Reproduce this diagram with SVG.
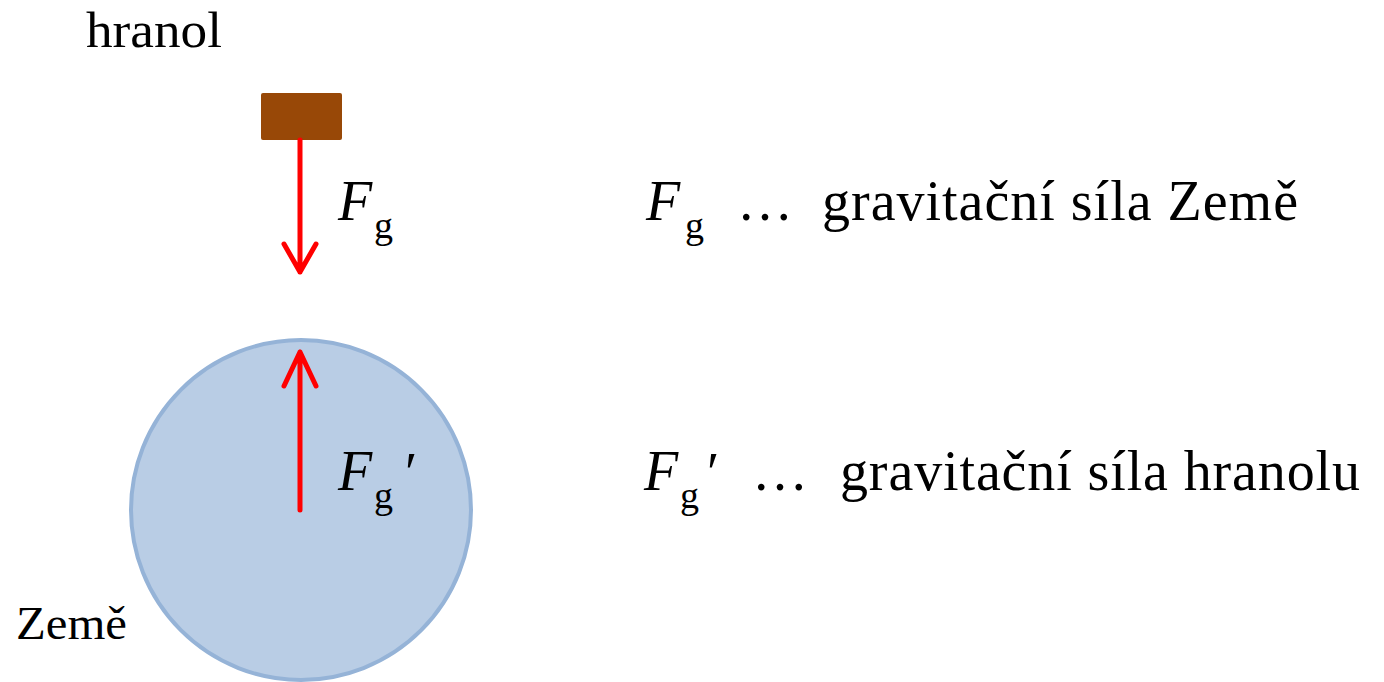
<svg xmlns="http://www.w3.org/2000/svg" width="1384" height="682" viewBox="0 0 1384 682">
<style>
text{font-family:"Liberation Serif","Times New Roman",serif;fill:#000}
.t{font-size:56px}
.i{font-style:italic}
.s{font-size:38px}
.arr{stroke:#FF0000;stroke-width:5;fill:none;stroke-linecap:round;stroke-linejoin:round}
</style>
<rect width="1384" height="682" fill="#fff"/>
<g id="zeme">
<circle cx="301" cy="510" r="170" fill="#B9CDE5" stroke="#95B3D7" stroke-width="4"/>
<text x="16" y="639" font-size="46" textLength="111" lengthAdjust="spacingAndGlyphs">Země</text>
</g>
<g id="hranol">
<rect x="261" y="93" width="81" height="47" rx="2" fill="#984807"/>
<text x="86" y="47" font-size="50" textLength="136" lengthAdjust="spacingAndGlyphs">hranol</text>
</g>
<g id="connectors">
<path class="arr" d="M300 140V272M284 244L300 272L316 244"/>
<path class="arr" d="M300 510V352M284 386L300 352L316 386"/>
</g>
<g id="label-fg">
<text class="t i" x="338" y="220">F</text><text class="s" x="374" y="238">g</text>
</g>
<g id="label-fg2">
<text class="t i" x="338" y="490">F</text><text class="s" x="374" y="508">g</text><text class="t" x="405" y="492">′</text>
</g>
<g id="legend1">
<text class="t i" x="646" y="220">F</text><text class="s" x="685" y="238">g</text>
<text class="t" x="737" y="220">…</text>
<text class="t" x="822" y="220" textLength="476">gravitační síla Země</text>
</g>
<g id="legend2">
<text class="t i" x="644" y="490">F</text><text class="s" x="680" y="508">g</text><text class="t" x="707" y="492">′</text>
<text class="t" x="752" y="490">…</text>
<text class="t" x="840" y="490" textLength="520">gravitační síla hranolu</text>
</g>
</svg>
